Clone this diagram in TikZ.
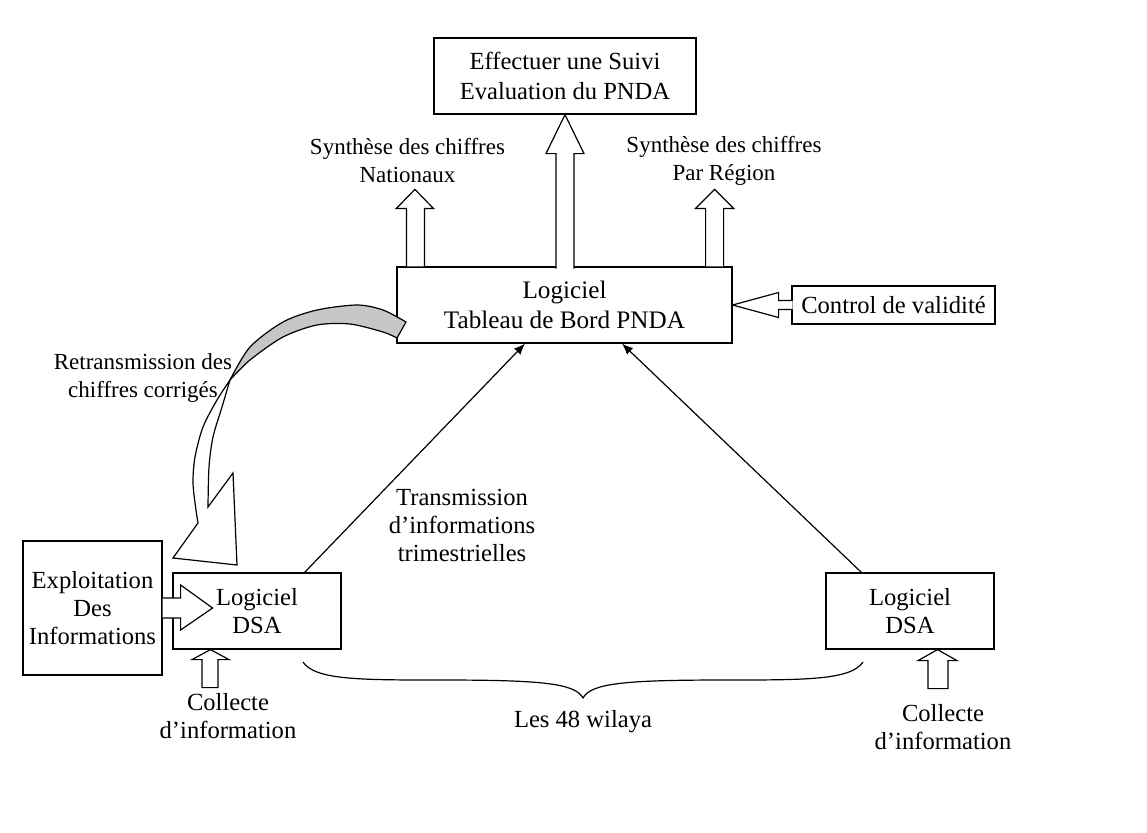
\documentclass[tikz,border=0pt]{standalone}
\usepackage{fontspec}
\setmainfont{Liberation Serif}
\usetikzlibrary{shapes,arrows,arrows.meta}

\begin{document}
\begin{tikzpicture}[x=0.5pt, y=-0.5pt, >={Latex[length=5.5pt, width=4.5pt]}, line width=0.6pt, font=\fontsize{12.3}{14}\selectfont]
	%define block styles
	\tikzset{
		block/.style={rectangle, draw=black, align=center, minimum width=84pt, minimum height=38pt, inner sep=0pt},
		txt/.style={align=center, inner sep=0pt},
		small/.style={font=\fontsize{11.5}{14}\selectfont},
		hollow/.style={draw=black, fill=white},
		back/.style={draw=black, fill=gray!45},
	}
	\useasboundingbox (0,0) rectangle (1147,832);
	%define nodes
	\node[block, minimum width=131pt, font=\fontsize{12.3}{15}\selectfont](suivi) at (565,76){Effectuer une Suivi\\Evaluation du PNDA};
	\node[block, minimum width=167.5pt, font=\fontsize{12.6}{15}\selectfont](tableau) at (564.5,305){Logiciel\\Tableau de Bord PNDA};
	\node[block, minimum width=101.5pt, minimum height=19pt](control) at (893.5,305){Control de validité};
	\node[block](dsaL) at (257,611){Logiciel\\DSA};
	\node[block](dsaR) at (910,611){Logiciel\\DSA};
	\node[block, minimum width=69.5pt, minimum height=67pt](exploit) at (92.5,608){Exploitation\\Des\\Informations};
	\node[txt, small](synNat) at (407.5,161){Synthèse des chiffres\\Nationaux};
	\node[txt, small](synReg) at (724,161){Synthèse des chiffres\\Par Région};
	\node[txt, small](retrans) at (143,378){Retransmission des\\chiffres corrigés};
	\node[txt](trans) at (462,525){Transmission\\d’informations\\trimestrielles};
	\node[txt](collL) at (228,716.5){Collecte\\d’information};
	\node[txt](collR) at (943,727){Collecte\\d’information};
	\node[txt](wilaya) at (583,722){Les 48 wilaya};
	%define hollow arrows
	\draw[hollow, shift={(suivi.south)}] (-9,154) -- (-9,39) -- (-19,39) -- (0,0) -- (19,39) -- (9,39) -- (9,154);
	\draw[hollow, shift={(tableau.north west)}] (10,0) -- (10,-58) -- (0,-58) -- (18.5,-77) -- (37,-58) -- (28,-58) -- (28,0);
	\draw[hollow, shift={(tableau.north east)}] (-27,0) -- (-27,-58) -- (-37,-58) -- (-18,-77) -- (1,-58) -- (-9,-58) -- (-9,0);
	\draw[hollow, shift={(tableau.east)}] (60,-4.5) -- (46,-4.5) -- (46,-12.5) -- (0,0) -- (46,12.5) -- (46,4.5) -- (60,4.5);
	\draw[hollow, shift={(exploit.east)}] (0,-10) -- (18,-10) -- (18,-23) -- (50,0) -- (18,22) -- (18,10) -- (0,10);
	\draw[hollow, shift={(dsaL.south)}] (-55,38) -- (-55,10) -- (-65,10) -- (-46.5,0) -- (-28,10) -- (-39,10) -- (-39,38) -- cycle;
	\draw[hollow, shift={(dsaR.south)}] (18,39) -- (18,11) -- (8,11) -- (27.5,0) -- (47,11) -- (38,11) -- (38,39) -- cycle;
	%curved arrow back to the DSA
	\draw[back] (406,322) -- (397,338) -- plot[smooth] coordinates {(397,338) (383,332) (350,324) (317,325) (283,337) (250,360) (230,380)}
		-- plot[smooth] coordinates {(230,380) (250,347) (283,322) (317,310) (357,305) (383,310) (406,322)} -- cycle;
	\draw[hollow] plot[smooth] coordinates {(230,380) (217,400) (203,427) (195,457) (193,483) (196,510) (198,523)}
		-- (173,558) -- (237,565) -- (233,473) -- (208,507)
		-- plot[smooth] coordinates {(208,507) (209,467) (213,437) (222,407) (230,380)} -- cycle;
	%define arrows
	\draw[->] ([xshift=-18.5pt]dsaL.north east) -- ([xshift=-19.75pt]tableau.south);
	\draw[->] ([xshift=18pt]dsaR.north west) -- ([xshift=28.75pt]tableau.south);
	%brace
	\draw (303,662) .. controls (315,680) and (360,680) .. (440,680) .. controls (540,680) and (575,683) .. (583,698)
		.. controls (591,683) and (626,680) .. (726,680) .. controls (806,680) and (851,680) .. (863,662);
\end{tikzpicture}
\end{document}
